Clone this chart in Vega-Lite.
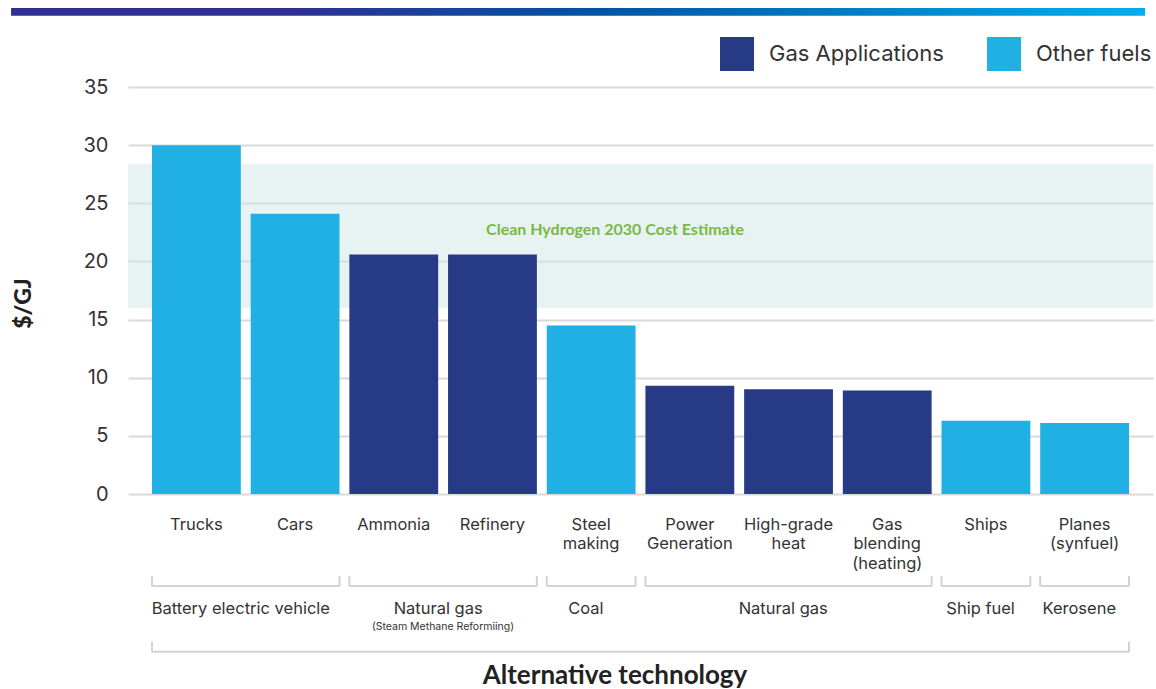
{
  "$schema": "https://vega.github.io/schema/vega-lite/v6.json",
  "width": 1025,
  "height": 407,
  "autosize": {"type": "none"},
  "padding": {"left": 128, "top": 87, "right": 3, "bottom": 195},
  "background": "white",
  "config": {"view": {"stroke": null}, "font": "Inter"},
  "datasets": {
    "costs": [
      {"technology": "Trucks", "cost": 30.0, "fuel": "Other fuels"},
      {"technology": "Cars", "cost": 24.1, "fuel": "Other fuels"},
      {"technology": "Ammonia", "cost": 20.6, "fuel": "Gas Applications"},
      {"technology": "Refinery", "cost": 20.6, "fuel": "Gas Applications"},
      {"technology": "Steel making", "cost": 14.5, "fuel": "Other fuels"},
      {"technology": "Power Generation", "cost": 9.3, "fuel": "Gas Applications"},
      {"technology": "High-grade heat", "cost": 9.0, "fuel": "Gas Applications"},
      {"technology": "Gas blending (heating)", "cost": 8.9, "fuel": "Gas Applications"},
      {"technology": "Ships", "cost": 6.3, "fuel": "Other fuels"},
      {"technology": "Planes (synfuel)", "cost": 6.1, "fuel": "Other fuels"}
    ],
    "groups": [
      {"group": "Battery electric vehicle", "first": "Trucks", "mid": "Trucks", "last": "Cars", "size": 2},
      {"group": "Natural gas", "note": "(Steam Methane Reformiing)", "first": "Ammonia", "mid": "Ammonia", "last": "Refinery", "size": 2},
      {"group": "Coal", "first": "Steel making", "mid": "Steel making", "last": "Steel making", "size": 1},
      {"group": "Natural gas", "first": "Power Generation", "mid": "High-grade heat", "last": "Gas blending (heating)", "size": 3},
      {"group": "Ship fuel", "first": "Ships", "mid": "Ships", "last": "Ships", "size": 1},
      {"group": "Kerosene", "first": "Planes (synfuel)", "mid": "Planes (synfuel)", "last": "Planes (synfuel)", "size": 1}
    ],
    "span": [{"first": "Trucks", "last": "Planes (synfuel)"}],
    "note": [{"label": "Clean Hydrogen 2030 Cost Estimate", "anchor": "Steel making"}],
    "xtitle": [{"label": "Alternative technology", "anchor": "Steel making"}],
    "estimate": [{"low": 16.0, "high": 28.4}]
  },
  "layer": [
    {
      "layer": [
        {
          "data": {"name": "estimate"},
          "mark": {"type": "rect", "color": "#cfe7e7", "opacity": 0.5},
          "encoding": {
            "y": {"field": "high", "type": "quantitative", "scale": {"domain": [0, 35]}},
            "y2": {"field": "low"}
          }
        },
        {
          "data": {"name": "costs"},
          "mark": {"type": "bar"},
          "encoding": {
            "x": {
              "field": "technology", "type": "nominal",
              "scale": {"domain": ["Trucks", "Cars", "Ammonia", "Refinery", "Steel making", "Power Generation", "High-grade heat", "Gas blending (heating)", "Ships", "Planes (synfuel)"], "paddingInner": 0.1, "paddingOuter": 0.243},
              "axis": {"labelExpr": "split(datum.label, ' ')", "labelAngle": 0, "labelFontSize": 16.5, "labelLineHeight": 19.5, "labelPadding": 22, "labelColor": "#333333", "labelFont": "Inter", "ticks": false, "domain": false, "grid": false, "labelOverlap": false, "title": null}
            },
            "y": {
              "field": "cost", "type": "quantitative",
              "scale": {"domain": [0, 35]},
              "axis": {"values": [0, 5, 10, 15, 20, 25, 30, 35], "grid": true, "gridColor": "#d9d9d9", "gridWidth": 2, "domain": false, "ticks": false, "labelPadding": 20, "labelFontSize": 20, "labelColor": "#333333", "labelFont": "Inter", "title": "$/GJ", "titleFont": "Lato", "titleFontWeight": 900, "titleFontSize": 23, "titleColor": "#222222", "titlePadding": 48, "titleY": 216}
            },
            "color": {
              "field": "fuel", "type": "nominal",
              "scale": {"domain": ["Gas Applications", "Other fuels"], "range": ["#273a86", "#20b0e4"]},
              "legend": {"orient": "none", "legendX": 592, "legendY": -50, "direction": "horizontal", "title": null, "symbolType": "square", "symbolSize": 1156, "symbolStrokeWidth": 0, "symbolOpacity": 1, "labelFontSize": 22, "labelFont": "Inter", "labelColor": "#333333", "labelOffset": 15, "labelLimit": 400, "columnPadding": 43, "padding": 0}
            }
          }
        },
        {
          "data": {"name": "note"},
          "mark": {"type": "text", "font": "Lato", "fontWeight": "bold", "fontSize": 16, "color": "#79b843", "align": "center", "baseline": "middle"},
          "encoding": {
            "x": {"field": "anchor", "type": "nominal", "bandPosition": 0.769, "scale": {"domain": ["Trucks", "Cars", "Ammonia", "Refinery", "Steel making", "Power Generation", "High-grade heat", "Gas blending (heating)", "Ships", "Planes (synfuel)"]}},
            "y": {"datum": 22.7, "type": "quantitative"},
            "text": {"field": "label"}
          }
        },
        {
          "data": {"name": "groups"},
          "mark": {"type": "rule", "color": "#d3d3d3", "strokeWidth": 2},
          "encoding": {
            "x": {"field": "first", "type": "nominal", "bandPosition": 0, "scale": {"domain": ["Trucks", "Cars", "Ammonia", "Refinery", "Steel making", "Power Generation", "High-grade heat", "Gas blending (heating)", "Ships", "Planes (synfuel)"]}},
            "x2": {"field": "last", "bandPosition": 1},
            "y": {"datum": -7.91, "type": "quantitative"}
          }
        },
        {
          "data": {"name": "groups"},
          "mark": {"type": "rule", "color": "#d3d3d3", "strokeWidth": 2},
          "encoding": {
            "x": {"field": "first", "type": "nominal", "bandPosition": 0, "scale": {"domain": ["Trucks", "Cars", "Ammonia", "Refinery", "Steel making", "Power Generation", "High-grade heat", "Gas blending (heating)", "Ships", "Planes (synfuel)"]}},
            "y": {"datum": -7.05, "type": "quantitative"},
            "y2": {"datum": -7.95}
          }
        },
        {
          "data": {"name": "groups"},
          "mark": {"type": "rule", "color": "#d3d3d3", "strokeWidth": 2},
          "encoding": {
            "x": {"field": "last", "type": "nominal", "bandPosition": 1, "scale": {"domain": ["Trucks", "Cars", "Ammonia", "Refinery", "Steel making", "Power Generation", "High-grade heat", "Gas blending (heating)", "Ships", "Planes (synfuel)"]}},
            "y": {"datum": -7.05, "type": "quantitative"},
            "y2": {"datum": -7.95}
          }
        },
        {
          "data": {"name": "span"},
          "mark": {"type": "rule", "color": "#d3d3d3", "strokeWidth": 2},
          "encoding": {
            "x": {"field": "first", "type": "nominal", "bandPosition": 0, "scale": {"domain": ["Trucks", "Cars", "Ammonia", "Refinery", "Steel making", "Power Generation", "High-grade heat", "Gas blending (heating)", "Ships", "Planes (synfuel)"]}},
            "x2": {"field": "last", "bandPosition": 1},
            "y": {"datum": -13.56, "type": "quantitative"}
          }
        },
        {
          "data": {"name": "span"},
          "mark": {"type": "rule", "color": "#d3d3d3", "strokeWidth": 2},
          "encoding": {
            "x": {"field": "first", "type": "nominal", "bandPosition": 0, "scale": {"domain": ["Trucks", "Cars", "Ammonia", "Refinery", "Steel making", "Power Generation", "High-grade heat", "Gas blending (heating)", "Ships", "Planes (synfuel)"]}},
            "y": {"datum": -12.70, "type": "quantitative"},
            "y2": {"datum": -13.60}
          }
        },
        {
          "data": {"name": "span"},
          "mark": {"type": "rule", "color": "#d3d3d3", "strokeWidth": 2},
          "encoding": {
            "x": {"field": "last", "type": "nominal", "bandPosition": 1, "scale": {"domain": ["Trucks", "Cars", "Ammonia", "Refinery", "Steel making", "Power Generation", "High-grade heat", "Gas blending (heating)", "Ships", "Planes (synfuel)"]}},
            "y": {"datum": -12.70, "type": "quantitative"},
            "y2": {"datum": -13.60}
          }
        },
        {
          "data": {"name": "groups"},
          "transform": [{"filter": "datum.size == 2"}],
          "mark": {"type": "text", "font": "Inter", "fontSize": 16.5, "color": "#333333", "align": "center", "baseline": "middle"},
          "encoding": {
            "x": {"field": "first", "type": "nominal", "bandPosition": 1.0, "scale": {"domain": ["Trucks", "Cars", "Ammonia", "Refinery", "Steel making", "Power Generation", "High-grade heat", "Gas blending (heating)", "Ships", "Planes (synfuel)"]}},
            "y": {"datum": -9.89, "type": "quantitative"},
            "text": {"field": "group"}
          }
        },
        {
          "data": {"name": "groups"},
          "transform": [{"filter": "datum.size != 2"}],
          "mark": {"type": "text", "font": "Inter", "fontSize": 16.5, "color": "#333333", "align": "center", "baseline": "middle"},
          "encoding": {
            "x": {"field": "mid", "type": "nominal", "bandPosition": 0.44, "scale": {"domain": ["Trucks", "Cars", "Ammonia", "Refinery", "Steel making", "Power Generation", "High-grade heat", "Gas blending (heating)", "Ships", "Planes (synfuel)"]}},
            "y": {"datum": -9.89, "type": "quantitative"},
            "text": {"field": "group"}
          }
        },
        {
          "data": {"name": "groups"},
          "transform": [{"filter": "isValid(datum.note)"}],
          "mark": {"type": "text", "font": "Inter", "fontSize": 10.5, "color": "#333333", "align": "center", "baseline": "middle"},
          "encoding": {
            "x": {"field": "first", "type": "nominal", "bandPosition": 1.054, "scale": {"domain": ["Trucks", "Cars", "Ammonia", "Refinery", "Steel making", "Power Generation", "High-grade heat", "Gas blending (heating)", "Ships", "Planes (synfuel)"]}},
            "y": {"datum": -11.41, "type": "quantitative"},
            "text": {"field": "note"}
          }
        },
        {
          "data": {"name": "xtitle"},
          "mark": {"type": "text", "font": "Lato", "fontWeight": "bold", "fontSize": 26, "color": "#222222", "align": "center", "baseline": "alphabetic"},
          "encoding": {
            "x": {"field": "anchor", "type": "nominal", "bandPosition": 0.769, "scale": {"domain": ["Trucks", "Cars", "Ammonia", "Refinery", "Steel making", "Power Generation", "High-grade heat", "Gas blending (heating)", "Ships", "Planes (synfuel)"]}},
            "y": {"datum": -16.3, "type": "quantitative"},
            "text": {"field": "label"}
          }
        }
      ]
    },
    {
      "data": {"values": [{}]},
      "mark": {"type": "rect", "color": {"gradient": "linear", "x1": 0, "y1": 0, "x2": 1, "y2": 0, "stops": [{"offset": 0, "color": "#2e3192"}, {"offset": 0.25, "color": "#2e3192"}, {"offset": 0.52, "color": "#0054a3"}, {"offset": 1, "color": "#00aeef"}]}},
      "encoding": {
        "x": {"datum": -0.1141, "type": "quantitative", "scale": {"domain": [0, 1]}, "axis": null},
        "x2": {"datum": 0.9922},
        "y": {"datum": 41.79, "type": "quantitative", "scale": {"domain": [0, 35]}, "axis": null},
        "y2": {"datum": 41.13}
      }
    }
  ],
  "resolve": {"scale": {"x": "independent", "y": "independent"}}
}
